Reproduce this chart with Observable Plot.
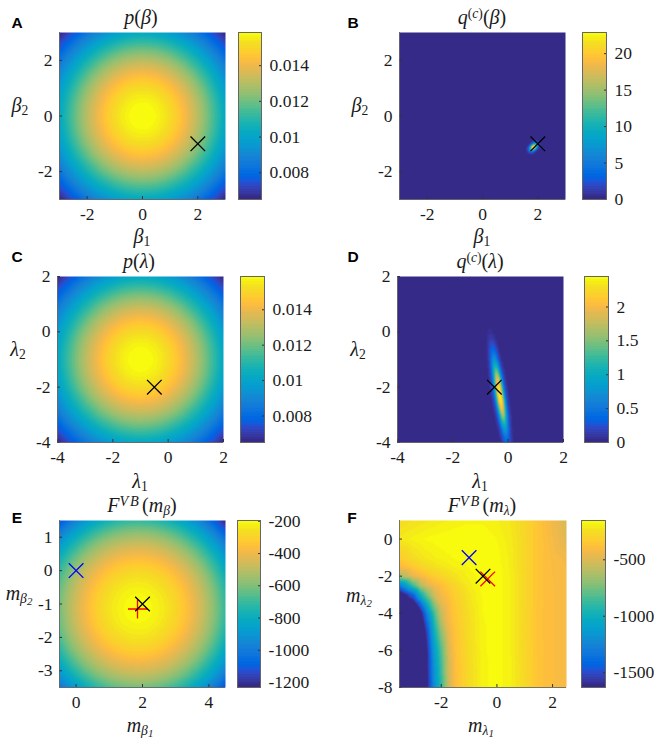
<!DOCTYPE html>
<html>
<head>
<meta charset="utf-8">
<script src="https://cdn.jsdelivr.net/npm/d3@7"></script>
<script src="https://cdn.jsdelivr.net/npm/@observablehq/plot@0.6"></script>
<style>
html,body{margin:0;padding:0;background:#fff;}
#page{position:relative;width:659px;height:742px;overflow:hidden;}
#page svg{position:absolute;overflow:visible;}
#page svg text{font-family:"Liberation Serif",serif !important;}
.t{position:absolute;transform:translate(-50%,-50%);white-space:nowrap;font-family:"Liberation Serif",serif;font-size:20px;color:#1a1a1a;line-height:1;}
.t i{font-style:italic;}
.t sub,.t sup{font-size:68%;line-height:0;}
.t sup{vertical-align:0.42em;}
.t sub{vertical-align:-0.22em;}
.t sub sub{font-size:80%;vertical-align:-0.2em;}
.t .vb{font-size:72%;letter-spacing:.12em;margin-right:.1em;}
.l{position:absolute;transform:translate(-50%,-50%);font-family:"Liberation Sans",Arial,sans-serif;font-weight:bold;font-size:15.5px;color:#000;line-height:1;}
</style>
</head>
<body>
<div id="page"></div>
<script>
// MATLAB colour map
const parulaRgb = [[.2081,.1663,.5292],[.2116,.1898,.5777],[.2123,.2138,.6270],[.2081,.2386,.6771],[.1959,.2645,.7279],[.1707,.2919,.7792],[.1253,.3242,.8303],[.0591,.3598,.8683],[.0117,.3875,.8820],[.0060,.4086,.8828],[.0165,.4266,.8786],[.0329,.4430,.8720],[.0498,.4586,.8641],[.0629,.4737,.8554],[.0723,.4887,.8467],[.0779,.5040,.8384],[.0793,.5200,.8312],[.0749,.5375,.8263],[.0641,.5570,.8240],[.0488,.5772,.8228],[.0343,.5966,.8199],[.0265,.6137,.8135],[.0239,.6287,.8038],[.0231,.6418,.7913],[.0228,.6535,.7768],[.0267,.6642,.7607],[.0384,.6743,.7436],[.0590,.6838,.7254],[.0843,.6928,.7062],[.1133,.7015,.6859],[.1453,.7098,.6646],[.1801,.7177,.6424],[.2178,.7250,.6193],[.2586,.7317,.5954],[.3022,.7376,.5712],[.3482,.7424,.5473],[.3953,.7459,.5244],[.4420,.7481,.5033],[.4871,.7491,.4840],[.5300,.7491,.4661],[.5709,.7485,.4494],[.6099,.7473,.4337],[.6473,.7456,.4188],[.6834,.7435,.4044],[.7184,.7411,.3905],[.7525,.7384,.3768],[.7858,.7356,.3633],[.8185,.7327,.3498],[.8507,.7299,.3360],[.8824,.7274,.3217],[.9139,.7258,.3063],[.9450,.7261,.2886],[.9739,.7314,.2666],[.9938,.7455,.2403],[.9990,.7653,.2164],[.9955,.7861,.1967],[.9880,.8066,.1794],[.9789,.8271,.1633],[.9697,.8481,.1475],[.9626,.8705,.1309],[.9589,.8949,.1132],[.9598,.9218,.0948],[.9661,.9514,.0755],[.9763,.9831,.0538]];
const parula = parulaRgb.map(c => `rgb(${c.map(v => Math.round(v * 255)).join(",")})`);

// Panels A and C: one quarter of the symmetric prior surface (in thousandths), centre first, quarter-unit steps
const priorQuarter = [
  [15.92,15.87,15.72,15.48,15.14,14.72,14.23,13.66,13.03,12.36,11.65,10.91,10.15],
  [15.87,15.82,15.67,15.43,15.09,14.67,14.19,13.62,12.99,12.32,11.61,10.88,10.12],
  [15.72,15.67,15.53,15.29,14.95,14.54,14.05,13.49,12.87,12.21,11.51,10.77,10.02],
  [15.48,15.43,15.29,15.05,14.72,14.31,13.84,13.28,12.67,12.02,11.33,10.61,9.87],
  [15.14,15.09,14.95,14.72,14.40,14.00,13.54,12.99,12.39,11.76,11.08,10.38,9.65],
  [14.72,14.67,14.54,14.31,14.00,13.61,13.16,12.63,12.05,11.43,10.77,10.09,9.39],
  [14.23,14.18,14.05,13.83,13.53,13.15,12.72,12.21,11.64,11.05,10.41,9.75,9.07],
  [13.66,13.62,13.49,13.28,12.99,12.63,12.21,11.72,11.18,10.60,10.00,9.36,8.71],
  [13.03,12.99,12.87,12.67,12.40,12.05,11.65,11.18,10.67,10.12,9.54,8.93,8.31],
  [12.36,12.32,12.20,12.02,11.75,11.43,11.05,10.61,10.12,9.60,9.05,8.47,7.88],
  [11.65,11.61,11.50,11.33,11.08,10.77,10.41,9.99,9.53,9.04,8.52,7.98,7.43],
  [10.91,10.87,10.77,10.61,10.37,10.09,9.75,9.36,8.93,8.47,7.98,7.48,6.95],
  [10.15,10.12,10.02,9.87,9.65,9.39,9.07,8.71,8.31,7.88,7.43,6.95,6.47]
];
const priorOrder = [12,11,10,9,8,7,6,5,4,3,2,1,0,1,2,3,4,5,6,7,8,9,10,11,12];
const priorRows = priorOrder.map(r => priorOrder.map(c => priorQuarter[r][c] / 1000));
const aAxis = [-3,-2.75,-2.5,-2.25,-2,-1.75,-1.5,-1.25,-1,-.75,-.5,-.25,0,.25,.5,.75,1,1.25,1.5,1.75,2,2.25,2.5,2.75,3];
const cAxis = [-4,-3.75,-3.5,-3.25,-3,-2.75,-2.5,-2.25,-2,-1.75,-1.5,-1.25,-1,-.75,-.5,-.25,0,.25,.5,.75,1,1.25,1.5,1.75,2];

// Panel B: the small blob and its dark surroundings
const bBlobX = [1.64,1.69,1.74,1.79,1.84,1.89,1.94,1.99,2.04];
const bBlobY = [-.92,-.97,-1.02,-1.07,-1.12,-1.17,-1.22,-1.27,-1.32];
const bBlob = [
  [.01,.04,.19,.59,1.26,1.9,1.9,1.4,.7],
  [.04,.24,.91,2.4,4.5,5.8,5.2,3.2,1.4],
  [.19,.91,3.0,6.9,11.1,12.4,9.6,5.2,1.9],
  [.59,2.4,6.9,13.8,19.1,18.4,12.4,5.8,1.9],
  [1.26,4.5,11.1,19.1,22.9,19.1,11.1,4.5,1.26],
  [1.9,5.8,12.4,18.4,19.1,13.8,6.9,2.4,.59],
  [1.9,5.2,9.6,12.4,11.1,6.9,3.0,.91,.19],
  [1.4,3.2,5.2,5.8,4.5,2.4,.91,.24,.04],
  [.7,1.4,1.9,1.9,1.26,.59,.19,.04,.01]
];
const bZeroes = [[-3,3],[0,3],[3,3],[3,0],[3,-3],[0,-3],[-3,-3],[-3,0],[1.54,-.82],[1.74,-.82],[1.84,-.82],[1.94,-.82],[2.14,-.82],[2.14,-1.02],[2.14,-1.12],[2.14,-1.22],[2.14,-1.42],[1.94,-1.42],[1.84,-1.42],[1.74,-1.42],[1.54,-1.42],[1.54,-1.22],[1.54,-1.12],[1.54,-1.02]];

// Panel D: the narrow ridge, read row by row across its width
const dLevels  = [.25,0,-.25,-.5,-.75,-1,-1.25,-1.5,-1.75,-2,-2.25,-2.5,-2.75,-3,-3.25,-3.5,-3.75,-4];
const dCentres = [-.69,-.65,-.61,-.57,-.535,-.5,-.46,-.42,-.38,-.345,-.31,-.27,-.23,-.19,-.155,-.115,-.08,-.04];
const dOffsets = [0,.06,.12,.18,.24,.36];
const dProfile = [
  [.02,.02,.01,.01,0,0],
  [.06,.05,.03,.02,.01,0],
  [.13,.11,.07,.03,.01,0],
  [.27,.23,.15,.07,.02,0],
  [.48,.41,.26,.12,.04,0],
  [.76,.65,.41,.19,.06,0],
  [1.15,.99,.62,.29,.10,0],
  [1.6,1.38,.86,.40,.14,0],
  [2.05,1.76,1.11,.51,.17,0],
  [2.35,2.02,1.27,.59,.20,0],
  [2.45,2.11,1.32,.61,.21,0],
  [2.4,2.06,1.30,.60,.20,0],
  [2.1,1.81,1.13,.53,.18,0],
  [1.7,1.46,.92,.43,.14,0],
  [1.25,1.08,.68,.31,.11,0],
  [.85,.73,.46,.21,.07,0],
  [.55,.47,.30,.14,.05,0],
  [.33,.28,.18,.08,.03,0]
];
const dZeroes = [[-4,2],[-1,2],[2,2],[2,-1],[2,-4],[-1,-4],[-4,-4],[-4,-1],[-.72,.5]];

// Panel E: one quarter of the surface around its peak, quarter-unit steps
const eQuarter = [
  [-195,-200,-214,-237,-270,-312,-364,-425,-495,-575,-664,-762],
  [-200,-205,-219,-242,-275,-317,-369,-430,-500,-580,-669,-767],
  [-214,-219,-233,-256,-289,-331,-383,-444,-514,-594,-683,-781],
  [-237,-242,-256,-279,-312,-354,-406,-467,-537,-617,-706,-804],
  [-270,-275,-289,-312,-345,-387,-439,-500,-570,-650,-739,-837],
  [-312,-317,-331,-354,-387,-429,-481,-542,-612,-692,-781,-879],
  [-364,-369,-383,-406,-439,-481,-533,-594,-664,-744,-833,-931],
  [-425,-430,-444,-467,-500,-542,-594,-655,-725,-805,-894,-992],
  [-495,-500,-514,-537,-570,-612,-664,-725,-795,-875,-964,-1062],
  [-575,-580,-594,-617,-650,-692,-744,-805,-875,-955,-1044,-1142],
  [-664,-669,-683,-706,-739,-781,-833,-894,-964,-1044,-1133,-1231],
  [-762,-767,-781,-804,-837,-879,-931,-992,-1062,-1142,-1231,-1329]
];
const eOrder = [11,10,9,8,7,6,5,4,3,2,1,0,1,2,3,4,5,6,7,8,9,10,11];
const eRows = eOrder.map(r => eOrder.map(c => eQuarter[r][c]));
const eX = [-.88,-.63,-.38,-.13,.12,.37,.62,.87,1.12,1.37,1.62,1.87,2.12,2.37,2.62,2.87,3.12,3.37,3.62,3.87,4.12,4.37,4.62];
const eY = [1.62,1.37,1.12,.87,.62,.37,.12,-.13,-.38,-.63,-.88,-1.13,-1.38,-1.63,-1.88,-2.13,-2.38,-2.63,-2.88,-3.13,-3.38,-3.63,-3.88];

// Panel F
const fX = [-3.5,-3,-2.75,-2.5,-2.25,-2,-1.75,-1.5,-1,-.5,0,.5,1,1.5,2,2.5];
const fY = [1,0,-1,-1.5,-2,-2.5,-3,-3.5,-4,-5,-6,-7,-8];
const fValues = [
  [-270,-245,-235,-225,-215,-205,-200,-190,-180,-180,-195,-225,-290,-370,-440,-510],
  [-215,-190,-180,-170,-165,-160,-158,-155,-155,-158,-175,-215,-285,-365,-425,-490],
  [-330,-260,-235,-215,-200,-190,-180,-170,-158,-155,-165,-205,-285,-370,-410,-440],
  [-420,-340,-300,-270,-245,-225,-210,-195,-172,-158,-160,-205,-285,-370,-408,-430],
  [-650,-470,-420,-370,-330,-290,-260,-235,-190,-160,-160,-200,-280,-370,-405,-425],
  [-1300,-850,-620,-490,-430,-390,-340,-290,-210,-165,-160,-200,-280,-370,-405,-415],
  [-1800,-1400,-1000,-750,-520,-430,-380,-320,-230,-170,-160,-200,-280,-370,-405,-415],
  [-2000,-1750,-1400,-1000,-700,-480,-410,-340,-240,-172,-160,-200,-282,-372,-405,-415],
  [-2000,-2000,-1700,-1250,-850,-550,-420,-350,-250,-175,-160,-200,-284,-374,-405,-415],
  [-2000,-2000,-1900,-1500,-1000,-700,-470,-370,-260,-180,-160,-200,-285,-375,-405,-415],
  [-2000,-2000,-2000,-1600,-1120,-820,-530,-380,-265,-180,-160,-198,-280,-372,-405,-415],
  [-2000,-2000,-2000,-1620,-1180,-870,-550,-390,-270,-185,-160,-195,-278,-370,-405,-415],
  [-2000,-2000,-2000,-1640,-1210,-900,-570,-395,-270,-185,-160,-195,-275,-370,-405,-415]
];

// Axis ticks
const ticksA = [-2,0,2];
const ticksC = [-4,-2,0,2];
const ticksEX = [0,2,4];
const ticksEY = [-3,-2,-1,0,1];
const ticksFX = [-2,0,2];
const ticksFY = [-8,-6,-4,-2,0];
const barA = [.008,.01,.012,.014];
const barB = [0,5,10,15,20];
const barD = [0,.5,1,1.5,2];
const barE = [-1200,-1000,-800,-600,-400,-200];
const barF = [-1500,-1000,-500];

// Text
const titles = [
  [141,17,'<i>p</i>(<i>β</i>)'],[482,17,'<i>q</i><sup>(<i>c</i>)</sup>(<i>β</i>)'],
  [139,261,'<i>p</i>(<i>λ</i>)'],[480,261,'<i>q</i><sup>(<i>c</i>)</sup>(<i>λ</i>)'],
  [142,505,'<i>F</i><sup class="vb"><i>VB</i></sup>(<i>m<sub>β</sub></i>)'],[482,505,'<i>F</i><sup class="vb"><i>VB</i></sup>(<i>m<sub>λ</sub></i>)']
];
const axisLabels = [
  [142,236,'<i>β</i><sub>1</sub>'],[482,236,'<i>β</i><sub>1</sub>'],
  [140,481,'<i>λ</i><sub>1</sub>'],[480,481,'<i>λ</i><sub>1</sub>'],
  [140,725,'<i>m<sub>β<sub>1</sub></sub></i>'],[481,725,'<i>m<sub>λ<sub>1</sub></sub></i>'],
  [20,105,'<i>β</i><sub>2</sub>'],[360,105,'<i>β</i><sub>2</sub>'],
  [18,349,'<i>λ</i><sub>2</sub>'],[358,349,'<i>λ</i><sub>2</sub>'],
  [19,593,'<i>m<sub>β<sub>2</sub></sub></i>'],[359,595,'<i>m<sub>λ<sub>2</sub></sub></i>']
];
const letters = [[17,23,'A'],[353,23,'B'],[17,257,'C'],[353,257,'D'],[17,518,'E'],[352,518,'F']];

const page = document.getElementById("page");
const fnt = '"Liberation Serif",serif';
const M = {l:40,r:10,t:10,b:40};

function gridPoints(xs, ys, rows) {
  return rows.flatMap((row, j) => row.map((v, i) => ({x: xs[i], y: ys[j], v})));
}
function zeroPoints(list) { return list.map(([x, y]) => ({x, y, v: 0})); }

const bPoints = [...gridPoints(bBlobX, bBlobY, bBlob), ...zeroPoints(bZeroes)];
const dPoints = [
  ...dLevels.flatMap((y, j) => dOffsets.flatMap((o, k) => {
    const v = dProfile[j][k];
    return o === 0 ? [{x: dCentres[j], y, v}] : [{x: dCentres[j] - o, y, v}, {x: dCentres[j] + o, y, v}];
  })),
  ...zeroPoints(dZeroes)
];

function place(svg, left, top) {
  svg.style.left = left + "px";
  svg.style.top = top + "px";
  page.appendChild(svg);
}

const tickText = {fontSize: 17.5, fontFamily: fnt, label: null, tickFormat: d => String(d), stroke: "#333", fill: "#1a1a1a"};

function panel(o) {
  const quant = t => parula[Math.max(0, Math.min(63, Math.floor(t * 64)))];
  const svg = Plot.plot({
    width: o.w + M.l + M.r, height: o.h + M.t + M.b,
    marginLeft: M.l, marginRight: M.r, marginTop: M.t, marginBottom: M.b,
    style: {background: "transparent", fontFamily: fnt},
    x: {domain: o.xd}, y: {domain: o.yd},
    color: {type: "linear", domain: o.cd, interpolate: quant, clamp: true},
    marks: [
      Plot.raster(o.points, {x: "x", y: "y", fill: "v", interpolate: "barycentric", pixelSize: 1}),
      Plot.axisX({...tickText, ticks: o.xt, tickSize: -3, tickPadding: 11}),
      Plot.axisY({...tickText, ticks: o.yt, tickSize: -3, tickPadding: 10}),
      Plot.ruleX([o.xd[0]], {stroke: "#555", strokeWidth: 0.8}),
      Plot.ruleY([o.yd[0]], {stroke: "#555", strokeWidth: 0.8}),
      ...o.markers.map(m => Plot.dot([m], {x: "x", y: "y", symbol: m.symbol, stroke: m.color, r: m.symbol === "plus" ? 6.2 : 6.7, strokeWidth: 1.3}))
    ]
  });
  place(svg, o.left - M.l, o.top - M.t);
}

function colorbar(o) {
  const [lo, hi] = o.cd;
  const n = parula.length;
  const svg = Plot.plot({
    width: o.w + 5 + 60, height: o.h + M.t + M.b,
    marginLeft: 5, marginRight: 60, marginTop: M.t, marginBottom: M.b,
    style: {background: "transparent", fontFamily: fnt},
    x: {domain: [0, 1], axis: null},
    y: {domain: o.cd, axis: null},
    marks: [
      Plot.rect(d3.range(n), {x1: 0, x2: 1, y1: i => lo + (hi - lo) * i / n, y2: i => lo + (hi - lo) * (i + 1) / n, fill: i => parula[i], shapeRendering: "crispEdges"}),
      Plot.axisY({...tickText, anchor: "right", ticks: o.ticks, tickSize: -3, tickPadding: 11}),
      Plot.frame({stroke: "#666", strokeWidth: 1})
    ]
  });
  place(svg, o.left - 5, o.top - M.t);
}

const cross = (x, y, color = "#000", symbol = "times") => ({x, y, color, symbol});

const panels = [
  {left:59, top:32, w:166, h:167, xd:[-3,3], yd:[-3,3], xt:ticksA, yt:ticksA, cd:[.0065,.01586], ticks:barA, barLeft:238, barW:23,
   points:gridPoints(aAxis, aAxis.slice().reverse(), priorRows), markers:[cross(2,-1)]},
  {left:399, top:32, w:166, h:167, xd:[-3,3], yd:[-3,3], xt:ticksA, yt:ticksA, cd:[0,22.9], ticks:barB, barLeft:582, barW:24,
   points:bPoints, markers:[cross(2,-1)]},
  {left:57, top:276, w:166, h:166, xd:[-4,2], yd:[-4,2], xt:ticksC, yt:ticksC, cd:[.0065,.01588], ticks:barA, barLeft:240, barW:24,
   points:gridPoints(cAxis, cAxis.slice().reverse(), priorRows), markers:[cross(-.5,-2)]},
  {left:397, top:276, w:166, h:166, xd:[-4,2], yd:[-4,2], xt:ticksC, yt:ticksC, cd:[0,2.45], ticks:barD, barLeft:584, barW:24,
   points:dPoints, markers:[cross(-.5,-2)]},
  {left:59, top:520, w:166, h:167, xd:[-.5,4.5], yd:[-3.5,1.5], xt:ticksEX, yt:ticksEY, cd:[-1231,-195], ticks:barE, barLeft:237, barW:23,
   points:gridPoints(eX, eY, eRows), markers:[cross(0,0,"#0000ff"), cross(1.85,-1.15,"#ff0000","plus"), cross(2,-1)]},
  {left:399, top:520, w:167, h:167, xd:[-3.5,2.5], yd:[-8,1], xt:ticksFX, yt:ticksFY, cd:[-1631,-152], ticks:barF, barLeft:581, barW:24,
   points:gridPoints(fX, fY, fValues), markers:[cross(-1,-1,"#0000ff"), cross(-.33,-2.15,"#ff0000"), cross(-.5,-2)]}
];

for (const p of panels) {
  panel(p);
  colorbar({left: p.barLeft, top: p.top, w: p.barW, h: p.h, cd: p.cd, ticks: p.ticks});
}
for (const [x, y, html] of [...titles, ...axisLabels]) {
  const d = document.createElement("div");
  d.className = "t"; d.style.left = x + "px"; d.style.top = y + "px"; d.innerHTML = html;
  page.appendChild(d);
}
for (const [x, y, s] of letters) {
  const d = document.createElement("div");
  d.className = "l"; d.style.left = x + "px"; d.style.top = y + "px"; d.textContent = s;
  page.appendChild(d);
}
</script>
</body>
</html>
